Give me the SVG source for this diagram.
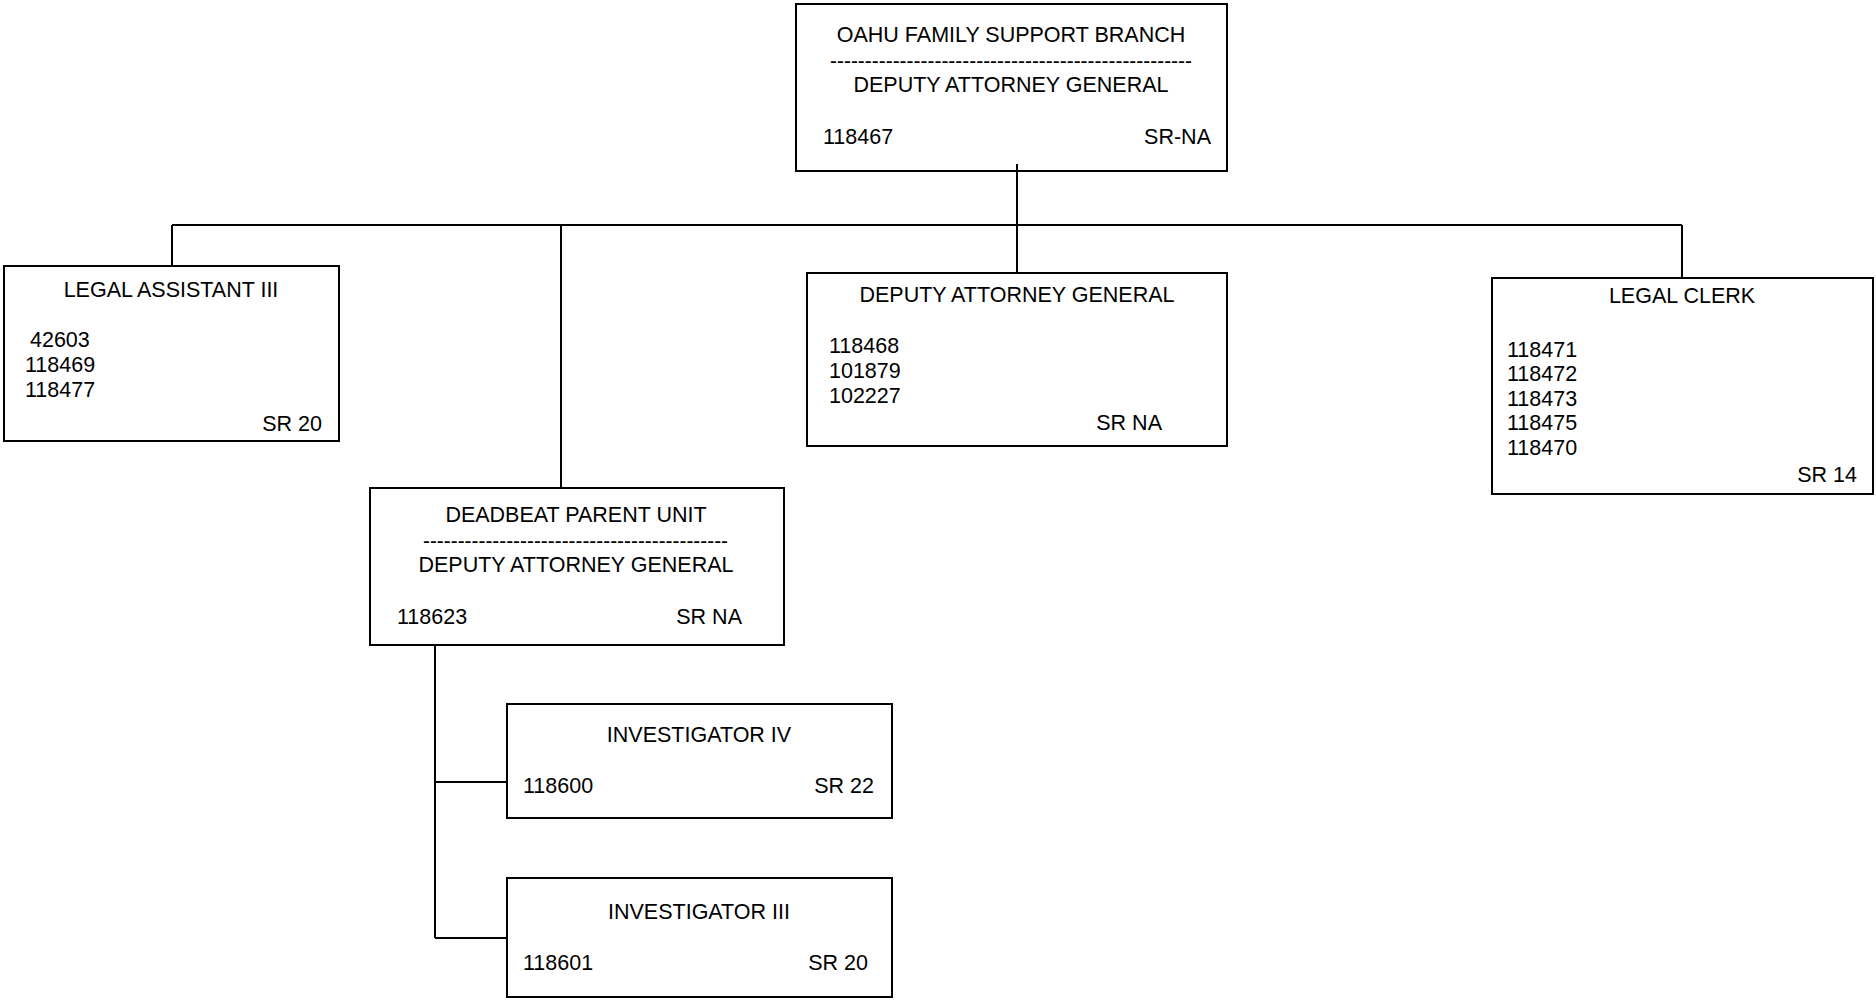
<svg xmlns="http://www.w3.org/2000/svg" width="1876" height="1000" viewBox="0 0 1876 1000">
<style>
.box{fill:#fff;stroke:#000;stroke-width:2}
.ln{fill:none;stroke:#000;stroke-width:2}
text{font-family:"Liberation Sans",Arial,sans-serif;font-size:21.5px;fill:#000}
.c{text-anchor:middle}
.r{text-anchor:end}
</style>
<rect width="1876" height="1000" fill="#fff"/>
<g id="oahu">
<rect class="box" x="796" y="4" width="431" height="167"/>
<text class="c" x="1011" y="42">OAHU FAMILY SUPPORT BRANCH</text>
<text x="830" y="68" textLength="362" lengthAdjust="spacingAndGlyphs">----------------------------------------------------</text>
<text class="c" x="1011" y="92">DEPUTY ATTORNEY GENERAL</text>
<text x="823" y="144">118467</text>
<text class="r" x="1211" y="144">SR-NA</text>
</g>
<g id="legal-assistant">
<rect class="box" x="4" y="266" width="335" height="175"/>
<text class="c" x="171" y="297">LEGAL ASSISTANT III</text>
<text x="30" y="347">42603</text>
<text x="25" y="372">118469</text>
<text x="25" y="397">118477</text>
<text class="r" x="322" y="431">SR 20</text>
</g>
<g id="dag">
<rect class="box" x="807" y="273" width="420" height="173"/>
<text class="c" x="1017" y="302">DEPUTY ATTORNEY GENERAL</text>
<text x="829" y="353">118468</text>
<text x="829" y="378">101879</text>
<text x="829" y="403">102227</text>
<text class="r" x="1162" y="430">SR NA</text>
</g>
<g id="legal-clerk">
<rect class="box" x="1492" y="278" width="381" height="216"/>
<text class="c" x="1682" y="303">LEGAL CLERK</text>
<text x="1507" y="357">118471</text>
<text x="1507" y="381">118472</text>
<text x="1507" y="406">118473</text>
<text x="1507" y="430">118475</text>
<text x="1507" y="455">118470</text>
<text class="r" x="1857" y="482">SR 14</text>
</g>
<g id="deadbeat">
<rect class="box" x="370" y="488" width="414" height="157"/>
<text class="c" x="576" y="522">DEADBEAT PARENT UNIT</text>
<text x="423" y="548" textLength="305" lengthAdjust="spacingAndGlyphs">--------------------------------------------</text>
<text class="c" x="576" y="572">DEPUTY ATTORNEY GENERAL</text>
<text x="397" y="624">118623</text>
<text class="r" x="742" y="624">SR NA</text>
</g>
<g id="inv4">
<rect class="box" x="507" y="704" width="385" height="114"/>
<text class="c" x="699" y="742">INVESTIGATOR IV</text>
<text x="523" y="793">118600</text>
<text class="r" x="874" y="793">SR 22</text>
</g>
<g id="inv3">
<rect class="box" x="507" y="878" width="385" height="119"/>
<text class="c" x="699" y="919">INVESTIGATOR III</text>
<text x="523" y="970">118601</text>
<text class="r" x="868" y="970">SR 20</text>
</g>
<g id="connectors">
<path class="ln" d="M1017 164V225M172 225H1682M172 225V266M561 225V488M1017 225V273M1682 225V278"/>
<path class="ln" d="M435 645V938M435 782H507M435 938H507"/>
</g>
</svg>
